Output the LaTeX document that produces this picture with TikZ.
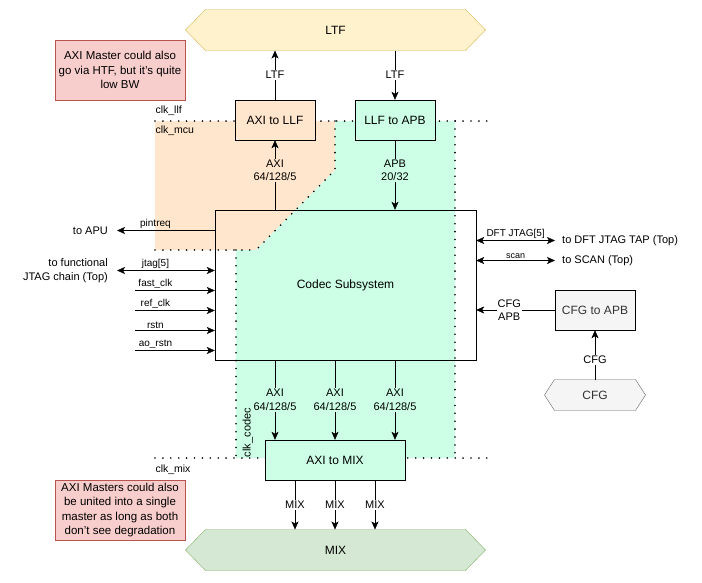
\documentclass[tikz,border=0pt]{standalone}
\usepackage{fontspec}
\setmainfont{Liberation Sans}
\usetikzlibrary{arrows.meta,backgrounds}

\definecolor{peach}{HTML}{FFE6CC}
\definecolor{mint}{HTML}{CCFFE6}
\definecolor{notefill}{HTML}{F8CECC}
\definecolor{notedraw}{HTML}{B85450}
\definecolor{ltffill}{HTML}{FFF2CC}
\definecolor{ltfdraw}{HTML}{D6B656}
\definecolor{mixfill}{HTML}{D5E8D4}
\definecolor{mixdraw}{HTML}{82B366}
\definecolor{greyfill}{HTML}{F5F5F5}
\definecolor{greydraw}{HTML}{666666}
\definecolor{greytext}{HTML}{333333}

\newcommand\fsz[2]{\fontsize{#1}{#2}\selectfont}

\begin{document}
\begin{tikzpicture}[x=1pt, y=-1pt, line width=1pt,
  block/.style={draw=black, minimum width=80pt, minimum height=40pt, inner sep=0pt,
    font=\fsz{12}{14}, align=center},
  note/.style={draw=notedraw, fill=notefill, minimum width=130pt, minimum height=60pt,
    inner sep=0pt, align=center, font=\fsz{11.5}{14.5}},
  hexbody/.style={inner sep=0pt, font=\fsz{12}{14}},
  txt/.style={inner sep=0pt, font=\fsz{11}{14}, align=right},
  clk/.style={inner sep=0pt, font=\fsz{10.5}{12}},
  lbl/.style={font=\fsz{11}{13.5}, align=center, inner sep=1pt},
  sig/.style={font=\fsz{10}{11}, inner sep=0pt, above=2pt},
  dotline/.style={line width=1.8pt, line cap=round, dash pattern=on 0pt off 7.9pt},
  arr/.style={-{Stealth[length=8pt, width=7pt, inset=2pt]}},
  dbl/.style={{Stealth[length=8pt, width=7pt, inset=2pt]}-{Stealth[length=8pt, width=7pt, inset=2pt]}}
]
\useasboundingbox (0,0) rectangle (702,582);

% clock domains
\fill[peach] (155,121) -- (335,121) -- (335,170) -- (256,250) -- (155,250) -- cycle;
\fill[mint] (335,121) -- (455,121) -- (455,458) -- (236,458) -- (236,250) -- (256,250) -- (335,170) -- cycle;

\draw[dotline] (155,121) -- (493,121);
\draw[dotline] (335,121) -- (335,170) -- (256,250);
\draw[dotline] (155,250) -- (256,250);
\draw[dotline] (236,250) -- (236,458);
\draw[dotline] (455,121) -- (455,458);
\draw[dotline] (155,458) -- (493,458);

\node[clk, anchor=base west] (clkllf) at (155,113.5) {clk\_llf};
\node[clk, anchor=base west] (clkmcu) at (155,133.5) {clk\_mcu};
\node[clk, anchor=base west] (clkmix) at (155,472.5) {clk\_mix};
\node[clk, font=\fsz{11}{12}, rotate=90, anchor=base west] (clkcodec) at (250.5,457.5) {clk\_codec};

% blocks
\node[hexbody, minimum width=259pt, minimum height=40pt] (ltf) at (335.5,30) {LTF};
\node[hexbody, minimum width=259pt, minimum height=40pt] (mix) at (335.5,550) {MIX};
\node[hexbody, text=greytext, minimum width=80pt, minimum height=30pt] (cfghex) at (595,395) {CFG};

\begin{pgfonlayer}{background}
\draw[ltfdraw, fill=ltffill] (ltf.north west) -- (ltf.north east) -- ([xshift=20pt]ltf.east)
  -- (ltf.south east) -- (ltf.south west) -- ([xshift=-20pt]ltf.west) -- cycle;
\draw[mixdraw, fill=mixfill] (mix.north west) -- (mix.north east) -- ([xshift=20pt]mix.east)
  -- (mix.south east) -- (mix.south west) -- ([xshift=-20pt]mix.west) -- cycle;
\draw[greydraw, fill=greyfill] (cfghex.north west) -- (cfghex.north east) -- ([xshift=10pt]cfghex.east)
  -- (cfghex.south east) -- (cfghex.south west) -- ([xshift=-10pt]cfghex.west) -- cycle;
\end{pgfonlayer}

\node[block, fill=peach] (axi2llf) at (275,120) {AXI to LLF};
\node[block, fill=mint] (llf2apb) at (395,120) {LLF to APB};
\node[block, minimum width=261pt, minimum height=150pt] (codec) at (345.5,285) {Codec Subsystem};
\node[block, fill=greyfill, text=greytext] (cfg2apb) at (595,310) {CFG to APB};
\node[block, fill=mint, minimum width=140pt] (axi2mix) at (335,460) {AXI to MIX};

\node[note] (note1) at (120,70) {AXI Master could also\\go via HTF, but it's quite\\low BW};
\node[note] (note2) at (120,510) {AXI Masters could also\\be united into a single\\master as long as both\\don't see degradation};

% top connections
\draw[arr] (axi2llf.north) -- (axi2llf.north |- ltf.south) node[lbl, fill=white, midway] {LTF};
\draw[arr] (llf2apb.north |- ltf.south) -- (llf2apb.north) node[lbl, fill=white, midway] {LTF};
\draw[arr] (codec.north -| axi2llf.south) -- (axi2llf.south) node[lbl, fill=peach, pos=0.57] {AXI\\64/128/5};
\draw[arr] (llf2apb.south) -- (llf2apb.south |- codec.north) node[lbl, fill=mint, pos=0.43] {APB\\20/32};

% left side signals
\coordinate (apuTip) at (117,230.5);
\draw[arr] (codec.west |- apuTip) -- (apuTip) node[sig, pos=0.607] {pintreq};
\node[txt, anchor=east] (apu) at (108,230.5) {to APU};

\coordinate (jtagTip) at (117,270.5);
\draw[dbl] (jtagTip) -- (jtagTip -| codec.west) node[sig, pos=0.393] {jtag[5]};
\node[txt, anchor=east] (jtagtxt) at (108,270.5) {to functional\\JTAG chain (Top)};

\foreach \n/\y/\t in {a/290.5/fast\_clk, b/310.5/ref\_clk, c/330.5/rstn, d/350.5/ao\_rstn}{
  \coordinate (in\n) at (135,\y);
  \draw[arr] (in\n) -- (in\n -| codec.west) node[sig, pos=0.256] {\t};
}

% right side signals
\coordinate (dftTip) at (555,240.5);
\draw[dbl] (codec.east |- dftTip) -- (dftTip) node[sig, midway] {DFT JTAG[5]};
\node[txt, anchor=west] (dfttxt) at (562,240.5) {to DFT JTAG TAP (Top)};

\coordinate (scanTip) at (555,260.5);
\draw[dbl] (codec.east |- scanTip) -- (scanTip) node[sig, font=\fsz{9}{11}, midway] {scan};
\node[txt, anchor=west] (scantxt) at (562,260.5) {to SCAN (Top)};

\draw[arr] (cfg2apb.west) -- (cfg2apb.west -| codec.east) node[lbl, fill=white, pos=0.58] {CFG\\APB};
\draw[arr] (cfghex.north) -- (cfg2apb.south) node[lbl, fill=white, pos=0.4] {CFG};

% bottom connections
\foreach \n/\dx in {a/-60, b/0, c/60}{
  \coordinate (ax\n) at ([xshift=\dx pt]axi2mix.north);
  \draw[arr] (codec.south -| ax\n) -- (ax\n) node[lbl, fill=mint, midway] {AXI\\64/128/5};
}
\foreach \n/\dx in {a/-40, b/0, c/40}{
  \coordinate (mx\n) at ([xshift=\dx pt]axi2mix.south);
  \draw[arr] (mx\n) -- (mx\n |- mix.north) node[lbl, fill=white, midway] {MIX};
}
\end{tikzpicture}
\end{document}
